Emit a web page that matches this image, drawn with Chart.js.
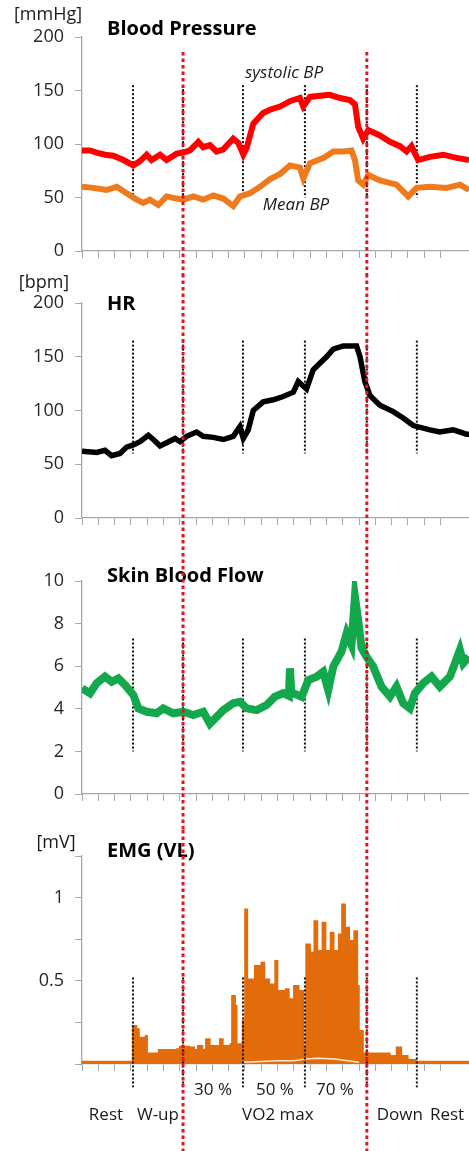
<!DOCTYPE html>
<html lang="en">
<head>
<meta charset="UTF-8">
<title>Blood Pressure / HR / Skin Blood Flow / EMG</title>
<style>
  html, body { margin: 0; padding: 0; background: #fff; }
  #wrap { position: relative; width: 469px; height: 1151px; overflow: hidden; }
  .panel { position: absolute; left: 0; width: 469px; }
</style>
</head>
<body>
<div id="wrap">
  <div class="panel" style="top:0"><canvas id="bpChart" width="469" height="274"></canvas></div>
  <div class="panel" style="top:274px"><canvas id="hrChart" width="469" height="266"></canvas></div>
  <div class="panel" style="top:540px"><canvas id="sbfChart" width="469" height="290"></canvas></div>
  <div class="panel" style="top:830px"><canvas id="emgChart" width="469" height="321"></canvas></div>
</div>
<script src="https://cdn.jsdelivr.net/npm/chart.js"></script>
<script>
// time axis: one unit = one tick mark
var sysTime = [0, 0.49, 0.9, 1.41, 1.92, 2.54, 3.15, 3.56, 3.97, 4.27, 4.79, 5.19, 5.81, 6.22, 6.63, 7.14, 7.44, 7.85, 8.26, 8.67,
  9.28, 9.59, 9.9, 10.1, 10.51, 11.12, 11.53, 12.15, 12.76, 13.37, 13.58, 13.99, 14.6, 15.21, 15.83, 16.44, 16.75, 16.95, 17.26, 17.57,
  18.28, 18.9, 19.51, 19.92, 20.22, 20.63, 21.35, 22.17, 22.99, 23.75];
var sysBP = [94, 94, 92, 90, 89, 85, 80, 84, 90, 85, 90, 85, 91, 92, 94, 102, 97, 99, 93, 95,
  105, 101, 90, 96, 119, 129, 132, 135, 140, 143, 135, 144, 145, 146, 143, 141, 137, 116, 105, 113,
  108, 102, 98, 93, 98, 85, 88, 90, 87, 85];

var meanTime = [0, 0.7, 1.51, 2.13, 2.74, 3.25, 3.76, 4.17, 4.68, 5.19, 5.81, 6.22, 6.83, 7.44, 8.06, 8.67, 9.28, 9.69, 10.31, 10.92,
  11.53, 12.15, 12.76, 13.37, 13.58, 13.99, 14.83, 15.42, 16.03, 16.54, 16.75, 16.95, 17.26, 17.57, 18.28, 19.3, 20.02, 20.53, 21.35, 22.38,
  23.2, 23.75];
var meanBP = [60, 59, 57, 60, 54, 49, 45, 48, 43, 51, 49, 48, 51, 48, 52, 49, 42, 51, 54, 60,
  67, 72, 80, 78, 68, 82, 87, 93, 93, 94, 85, 66, 62, 71, 66, 62, 51, 59, 60, 59,
  62, 57];

var hrTime = [0, 0.9, 1.41, 1.82, 2.33, 2.74, 3.15, 3.56, 4.07, 4.38, 4.79, 5.19, 5.71, 6.01, 6.42, 7.03, 7.44, 8.06, 8.67, 9.28,
  9.69, 9.9, 10.2, 10.51, 11.12, 11.74, 12.35, 12.97, 13.27, 13.78, 14.19, 14.6, 15.01, 15.42, 16.03, 16.85, 17.06, 17.36, 17.67, 18.28,
  19.1, 19.71, 20.33, 21.35, 21.96, 22.78, 23.6, 23.75];
var hrValues = [62, 61, 63, 58, 60, 66, 68, 71, 77, 73, 67, 70, 74, 71, 76, 80, 76, 75, 73, 76,
  85, 74, 82, 100, 108, 110, 113, 117, 127, 120, 138, 144, 150, 157, 160, 160, 150, 127, 114, 105,
  99, 93, 86, 82, 80, 82, 78, 78];

var sbfTime = [0, 0.49, 0.9, 1.41, 1.82, 2.23, 2.64, 3.15, 3.46, 3.97, 4.58, 4.99, 5.6, 6.22, 6.83, 7.44, 7.85, 8.67, 9.28, 9.69,
  10.1, 10.72, 11.33, 11.84, 12.35, 12.7, 12.76, 12.85, 12.97, 13.48, 13.89, 14.4, 14.8, 15.11, 15.42, 15.93, 16.24, 16.54, 16.75, 16.95,
  17.16, 17.46, 17.87, 18.38, 18.9, 19.3, 19.71, 20.12, 20.43, 20.94, 21.45, 21.96, 22.58, 23.19, 23.4, 23.75];
var sbfValues = [4.96, 4.73, 5.2, 5.51, 5.27, 5.43, 5.12, 4.65, 4.02, 3.86, 3.79, 4.02, 3.79, 3.86, 3.71, 3.86, 3.3, 3.94, 4.26, 4.33,
  4.02, 3.94, 4.18, 4.57, 4.73, 4.6, 5.9, 4.7, 4.73, 4.57, 5.35, 5.51, 5.74, 4.88, 5.98, 6.69, 7.54, 7.0, 9.26, 8.17,
  6.84, 6.45, 5.98, 5.04, 4.57, 5.04, 4.26, 4.02, 4.73, 5.2, 5.51, 5.04, 5.51, 6.76, 6.14, 6.45];

// EMG envelope, each value holds until the next time
var emgTime = [0, 3.1, 3.35, 3.5, 3.9, 4.0, 4.7, 5.8, 6.0, 6.6, 6.9, 7.1, 7.4, 7.6, 7.85, 8.45, 8.65, 9.1, 9.2, 9.4,
  9.5, 9.85, 10.0, 10.15, 10.5, 10.6, 11.0, 11.2, 11.5, 11.85, 12.0, 12.5, 12.7, 13.0, 13.3, 13.6, 13.75, 14.0, 14.25, 14.45,
  14.75, 14.95, 15.25, 15.45, 15.75, 15.95, 16.15, 16.4, 16.7, 16.9, 17.0, 17.25, 18.9, 19.3, 19.6, 20.0, 20.5, 23.75];
var emgValues = [0.015, 0.23, 0.21, 0.16, 0.17, 0.065, 0.085, 0.09, 0.105, 0.1, 0.085, 0.11, 0.085, 0.15, 0.11, 0.15, 0.11, 0.12, 0.41, 0.35,
  0.12, 0.26, 0.93, 0.51, 0.49, 0.59, 0.61, 0.51, 0.48, 0.62, 0.44, 0.45, 0.39, 0.47, 0.44, 0.1, 0.72, 0.67, 0.86, 0.68,
  0.85, 0.68, 0.79, 0.68, 0.78, 0.96, 0.82, 0.74, 0.8, 0.47, 0.2, 0.064, 0.05, 0.1, 0.05, 0.025, 0.015, 0.015];
var emgLowTime = [9.9, 11, 12, 13, 13.7, 14.5, 15.5, 16.3, 17.0];
var emgLowValues = [0.01, 0.015, 0.02, 0.02, 0.03, 0.035, 0.03, 0.02, 0.01];

// phase boundaries (black dotted) and the two red dotted ones
var phaseMarks = [3.13, 6.2, 9.88, 13.68, 17.48, 20.55];
var redMarks = [6.2, 17.48];

var intensityLabels = ['30 %', '50 %', '70 %'];
var intensityAt = [8.04, 11.84, 15.52];
var phaseLabels = ['Rest', 'W-up', 'VO2 max', 'Down', 'Rest'];
var phaseAt = [1.47, 4.66, 12.02, 19.5, 22.4];

var FONT = "'Open Sans', 'Noto Sans', sans-serif";
Chart.defaults.font.family = FONT;
Chart.defaults.color = '#262626';

function pts(xs, ys) {
  return xs.map(function (x, i) { return { x: x, y: ys[i] }; });
}

function markerSets(lo, hi, order) {
  return phaseMarks.map(function (t) {
    return {
      label: 'phase', data: [{ x: t, y: hi }, { x: t, y: lo }],
      borderColor: '#111', borderWidth: 2, borderDash: [2, 2],
      pointRadius: 0, clip: false, order: order
    };
  });
}

// red dotted lines crossing every panel
var redLines = {
  id: 'redLines',
  afterDraw: function (chart, args, opts) {
    var ctx = chart.ctx, xs = chart.scales.x;
    var top = opts.fromValue != null ? chart.scales.y.getPixelForValue(opts.fromValue) : 0;
    ctx.save();
    ctx.strokeStyle = '#e3161f';
    ctx.lineWidth = 3;
    ctx.setLineDash([3.5, 3]);
    redMarks.forEach(function (t) {
      var px = xs.getPixelForValue(t);
      ctx.beginPath();
      ctx.moveTo(px, top);
      ctx.lineTo(px, chart.height);
      ctx.stroke();
    });
    ctx.restore();
  }
};

// unit, title and free texts
var panelText = {
  id: 'panelText',
  afterDatasetsDraw: function (chart, args, opts) {
    var ctx = chart.ctx, a = chart.chartArea;
    ctx.save();
    ctx.textBaseline = 'middle';
    ctx.fillStyle = '#1a1a1a';
    if (opts.unit) {
      ctx.font = '18px ' + FONT;
      ctx.textAlign = 'center';
      ctx.fillText(opts.unit, opts.unitX, a.top + opts.unitDy);
    }
    ctx.font = 'bold 20px ' + FONT;
    ctx.textAlign = 'left';
    ctx.fillStyle = '#000';
    ctx.fillText(opts.title, a.left + 25, a.top + opts.titleDy);
    (opts.notes || []).forEach(function (n) {
      ctx.font = 'italic 17px ' + FONT;
      ctx.fillStyle = '#1a1a1a';
      ctx.fillText(n.text, chart.scales.x.getPixelForValue(n.t), chart.scales.y.getPixelForValue(n.v));
    });
    if (opts.bottomLabels) {
      ctx.font = '17px ' + FONT;
      ctx.textAlign = 'center';
      ctx.fillStyle = '#1a1a1a';
      intensityLabels.forEach(function (s, i) {
        ctx.fillText(s, chart.scales.x.getPixelForValue(intensityAt[i]), a.bottom + 26);
      });
      phaseLabels.forEach(function (s, i) {
        ctx.fillText(s, chart.scales.x.getPixelForValue(phaseAt[i]), a.bottom + 51);
      });
    }
    ctx.restore();
  }
};

function makePanel(id, datasets, y, pad, textOpts, redFrom) {
  return new Chart(document.getElementById(id), {
    type: 'line',
    data: { datasets: datasets },
    options: {
      responsive: false,
      animation: false,
      layout: { padding: { top: pad[0], bottom: pad[1], left: 0, right: 0 } },
      elements: { line: { tension: 0 }, point: { radius: 0 } },
      plugins: {
        legend: { display: false },
        tooltip: { enabled: false },
        panelText: textOpts,
        redLines: { fromValue: redFrom }
      },
      scales: {
        x: {
          type: 'linear', min: 0, max: 23.75,
          ticks: { stepSize: 1, display: false },
          grid: { drawOnChartArea: false, drawTicks: true, tickLength: 7, color: '#a6a6a6' },
          border: { color: '#a6a6a6', width: 1.3 },
          afterFit: function (s) { s.height = 10; }
        },
        y: {
          min: y.min, max: y.max,
          ticks: {
            stepSize: y.step, padding: 11, color: '#262626', font: { size: 18 },
            callback: y.cb || function (v) { return v; }
          },
          grid: { drawOnChartArea: false, drawTicks: true, tickLength: 7, color: '#a6a6a6' },
          border: { color: '#a6a6a6', width: 1.3 },
          afterFit: function (s) { s.width = 82; }
        }
      }
    },
    plugins: [panelText, redLines]
  });
}

// Blood Pressure
makePanel('bpChart', [
  { label: 'systolic BP', data: pts(sysTime, sysBP), borderColor: '#ff0000', borderWidth: 6, order: 0 },
  { label: 'Mean BP', data: pts(meanTime, meanBP), borderColor: '#ee7a1c', borderWidth: 6, order: 0 }
].concat(markerSets(50, 155, 2)),
  { min: 0, max: 200, step: 50 }, [37, 13],
  { unit: '[mmHg]', unitX: 48, unitDy: -22, title: 'Blood Pressure', titleDy: -8,
    notes: [{ text: 'systolic BP', t: 10.0, v: 166 }, { text: 'Mean BP', t: 11.1, v: 43 }] },
  186);

// HR
makePanel('hrChart', [
  { label: 'HR', data: pts(hrTime, hrValues), borderColor: '#000', borderWidth: 5.5, order: 0 }
].concat(markerSets(60, 165, 2)),
  { min: 0, max: 200, step: 50 }, [29, 12],
  { unit: '[bpm]', unitX: 44, unitDy: -20, title: 'HR', titleDy: 1 },
  null);

// Skin Blood Flow
makePanel('sbfChart', [
  { label: 'Skin Blood Flow', data: pts(sbfTime, sbfValues), borderColor: '#14a84c', borderWidth: 8, order: 0 }
].concat(markerSets(2, 7.3, 2)),
  { min: 0, max: 10, step: 2 }, [41, 26],
  { title: 'Skin Blood Flow', titleDy: -5 },
  null);

// EMG (VL)
makePanel('emgChart', [
  { label: 'EMG', data: pts(emgTime, emgValues), borderColor: '#e36c0a', backgroundColor: '#e36c0a',
    borderWidth: 1.5, fill: 'origin', stepped: true, order: 3 },
  { label: 'EMG low', data: pts(emgLowTime, emgLowValues), borderColor: 'rgba(255,238,222,0.95)', borderWidth: 1.5, order: 2 }
].concat(markerSets(-0.14, 0.52, 0)),
  { min: 0, max: 1.25, step: 0.25, cb: function (v) { return (v === 0.5 || v === 1) ? v : ''; } }, [26, 77],
  { unit: '[mV]', unitX: 56, unitDy: -13, title: 'EMG (VL)', titleDy: -5, bottomLabels: true },
  null);
</script>
</body>
</html>
